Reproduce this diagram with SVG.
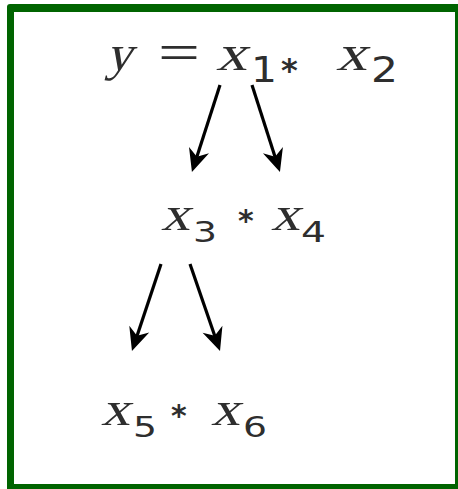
<svg xmlns="http://www.w3.org/2000/svg" width="458" height="489" viewBox="0 0 458 489">
<style>
.v{font-family:"Liberation Serif","Times New Roman",serif;fill:#2e2e2e}
.op{font-family:"Liberation Serif",serif;fill:#2e2e2e}
.d{font-family:"DejaVu Sans",sans-serif;fill:#2e2e2e}
.ast{font-family:"DejaVu Sans",sans-serif;font-weight:bold;fill:#2e2e2e}
.c{stroke:#000;stroke-width:3.2;fill:none}
</style>
<defs>
<marker id="ah" markerUnits="userSpaceOnUse" markerWidth="40" markerHeight="40" refX="-8" refY="0" orient="auto" overflow="visible" viewBox="-30 -15 40 30">
<path d="M0,0 L-23,-10.5 L-16,0 L-23,10.5 Z" fill="#000"/>
</marker>
</defs>
<rect width="458" height="489" fill="#fff"/>
<path d="M10,4 H458 V489 H7 V7 Q7,4 10,4 Z M14,12 V484 H455 V12 Z" fill="#006400" fill-rule="evenodd"/>
<g id="node-y">
<text class="v" transform="translate(106,70) skewX(-14)" font-size="50" textLength="26" lengthAdjust="spacingAndGlyphs">y</text>
<text class="op" x="158" y="70" font-size="52" textLength="42" lengthAdjust="spacingAndGlyphs">=</text>
<text class="v" transform="translate(216,70) skewX(-14)" font-size="50" textLength="31" lengthAdjust="spacingAndGlyphs">x</text>
<text class="d" x="251" y="82" font-size="35" textLength="26" lengthAdjust="spacingAndGlyphs">1</text>
<text class="ast" x="281" y="81" font-size="32">*</text>
<text class="v" transform="translate(336,70) skewX(-14)" font-size="50" textLength="31" lengthAdjust="spacingAndGlyphs">x</text>
<text class="d" x="371" y="82" font-size="35" textLength="27" lengthAdjust="spacingAndGlyphs">2</text>
</g>
<g id="node-x3x4">
<text class="v" transform="translate(161,230) skewX(-14)" font-size="48" textLength="29" lengthAdjust="spacingAndGlyphs">x</text>
<text class="d" x="193" y="242" font-size="28" textLength="24" lengthAdjust="spacingAndGlyphs">3</text>
<text class="ast" x="238" y="231" font-size="30">*</text>
<text class="v" transform="translate(271,230) skewX(-14)" font-size="48" textLength="29" lengthAdjust="spacingAndGlyphs">x</text>
<text class="d" x="301" y="242" font-size="28" textLength="25" lengthAdjust="spacingAndGlyphs">4</text>
</g>
<g id="node-x5x6">
<text class="v" transform="translate(101,425) skewX(-14)" font-size="48" textLength="29" lengthAdjust="spacingAndGlyphs">x</text>
<text class="d" x="133" y="437" font-size="28" textLength="24" lengthAdjust="spacingAndGlyphs">5</text>
<text class="ast" x="171" y="426" font-size="30">*</text>
<text class="v" transform="translate(211,425) skewX(-14)" font-size="48" textLength="29" lengthAdjust="spacingAndGlyphs">x</text>
<text class="d" x="243" y="437" font-size="28" textLength="24" lengthAdjust="spacingAndGlyphs">6</text>
</g>
<g id="connectors">
<line class="c" x1="220" y1="85" x2="194.4" y2="164.4" marker-end="url(#ah)"/>
<line class="c" x1="252" y1="85" x2="277.5" y2="164.4" marker-end="url(#ah)"/>
<line class="c" x1="161" y1="264" x2="134.5" y2="343.4" marker-end="url(#ah)"/>
<line class="c" x1="190" y1="264" x2="217.4" y2="343.4" marker-end="url(#ah)"/>
</g>
</svg>
